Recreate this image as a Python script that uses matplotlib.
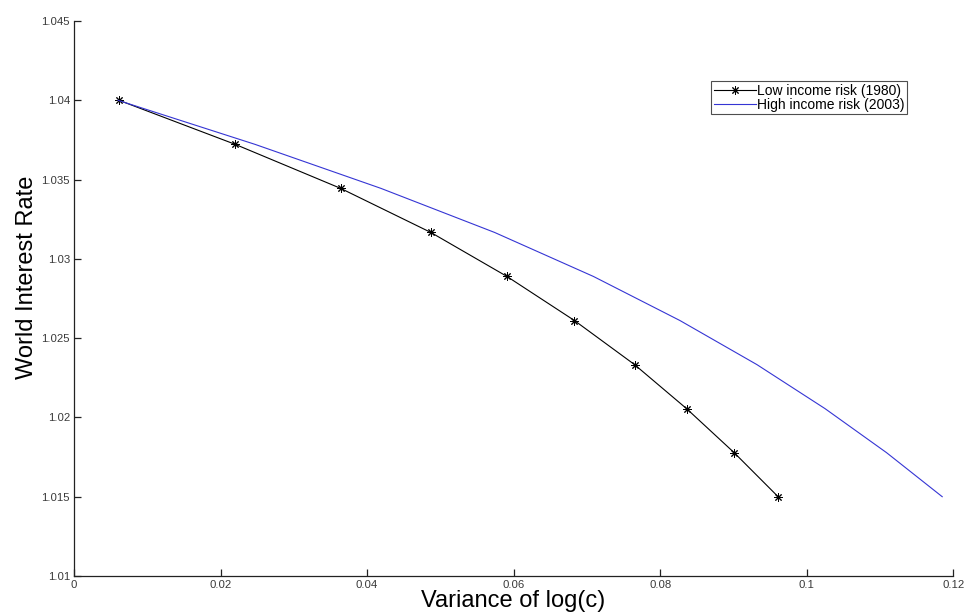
import matplotlib

matplotlib.use("Agg")
import matplotlib.pyplot as plt

plt.rcParams["font.family"] = ["Liberation Sans", "DejaVu Sans"]

# interest rate grid shared by both equilibria
rate = [1.04, 1.037222, 1.034444, 1.031667, 1.028889,
        1.026111, 1.023333, 1.020556, 1.017778, 1.015]

# variance of log consumption at each rate
var_low = [0.00614, 0.0220, 0.0364, 0.0487, 0.0591,
           0.0683, 0.0765, 0.0836, 0.0901, 0.0961]
var_high = [0.0060, 0.0247, 0.0419, 0.0574, 0.0709,
            0.0827, 0.0932, 0.1025, 0.1109, 0.1185]

xticks = [0, 0.02, 0.04, 0.06, 0.08, 0.1, 0.12]
xticklabels = ["0", "0.02", "0.04", "0.06", "0.08", "0.1", "0.12"]
yticks = [1.01, 1.015, 1.02, 1.025, 1.03, 1.035, 1.04, 1.045]
yticklabels = ["1.01", "1.015", "1.02", "1.025", "1.03", "1.035", "1.04", "1.045"]

fig = plt.figure(figsize=(9.64, 6.13), dpi=100)
ax = fig.add_axes([0.0768, 0.0604, 0.912, 0.9053])

ax.plot(var_low, rate, color="black", linewidth=0.8, marker=(8, 2, 0),
        markersize=6, markeredgewidth=0.7, label="Low income risk (1980)")
ax.plot(var_high, rate, color="#3535d4", linewidth=0.8,
        label="High income risk (2003)")

ax.set_xlim(0, 0.12)
ax.set_ylim(1.01, 1.045)
ax.set_xticks(xticks)
ax.set_xticklabels(xticklabels)
ax.set_yticks(yticks)
ax.set_yticklabels(yticklabels)

for side in ("top", "right"):
    ax.spines[side].set_visible(False)
for side in ("left", "bottom"):
    ax.spines[side].set_color("#222222")
    ax.spines[side].set_linewidth(0.9)
ax.tick_params(direction="in", length=5, width=0.9, color="#222222",
               labelsize=8.2, labelcolor="#3a3a3a", pad=3)

ax.set_xlabel("Variance of log(c)", fontsize=17, labelpad=0)
ax.set_ylabel("World Interest Rate", fontsize=17)
ax.yaxis.set_label_coords(-0.041, 0.538)

leg = ax.legend(loc="upper right", bbox_to_anchor=(0.9477, 0.8924), fontsize=10,
                frameon=True, fancybox=False, edgecolor="#222222",
                handlelength=3.0, borderpad=0.2, labelspacing=0.0,
                handletextpad=0.1, borderaxespad=0)
leg.get_frame().set_linewidth(0.8)

fig.savefig("out.png", dpi=100, facecolor="white")
